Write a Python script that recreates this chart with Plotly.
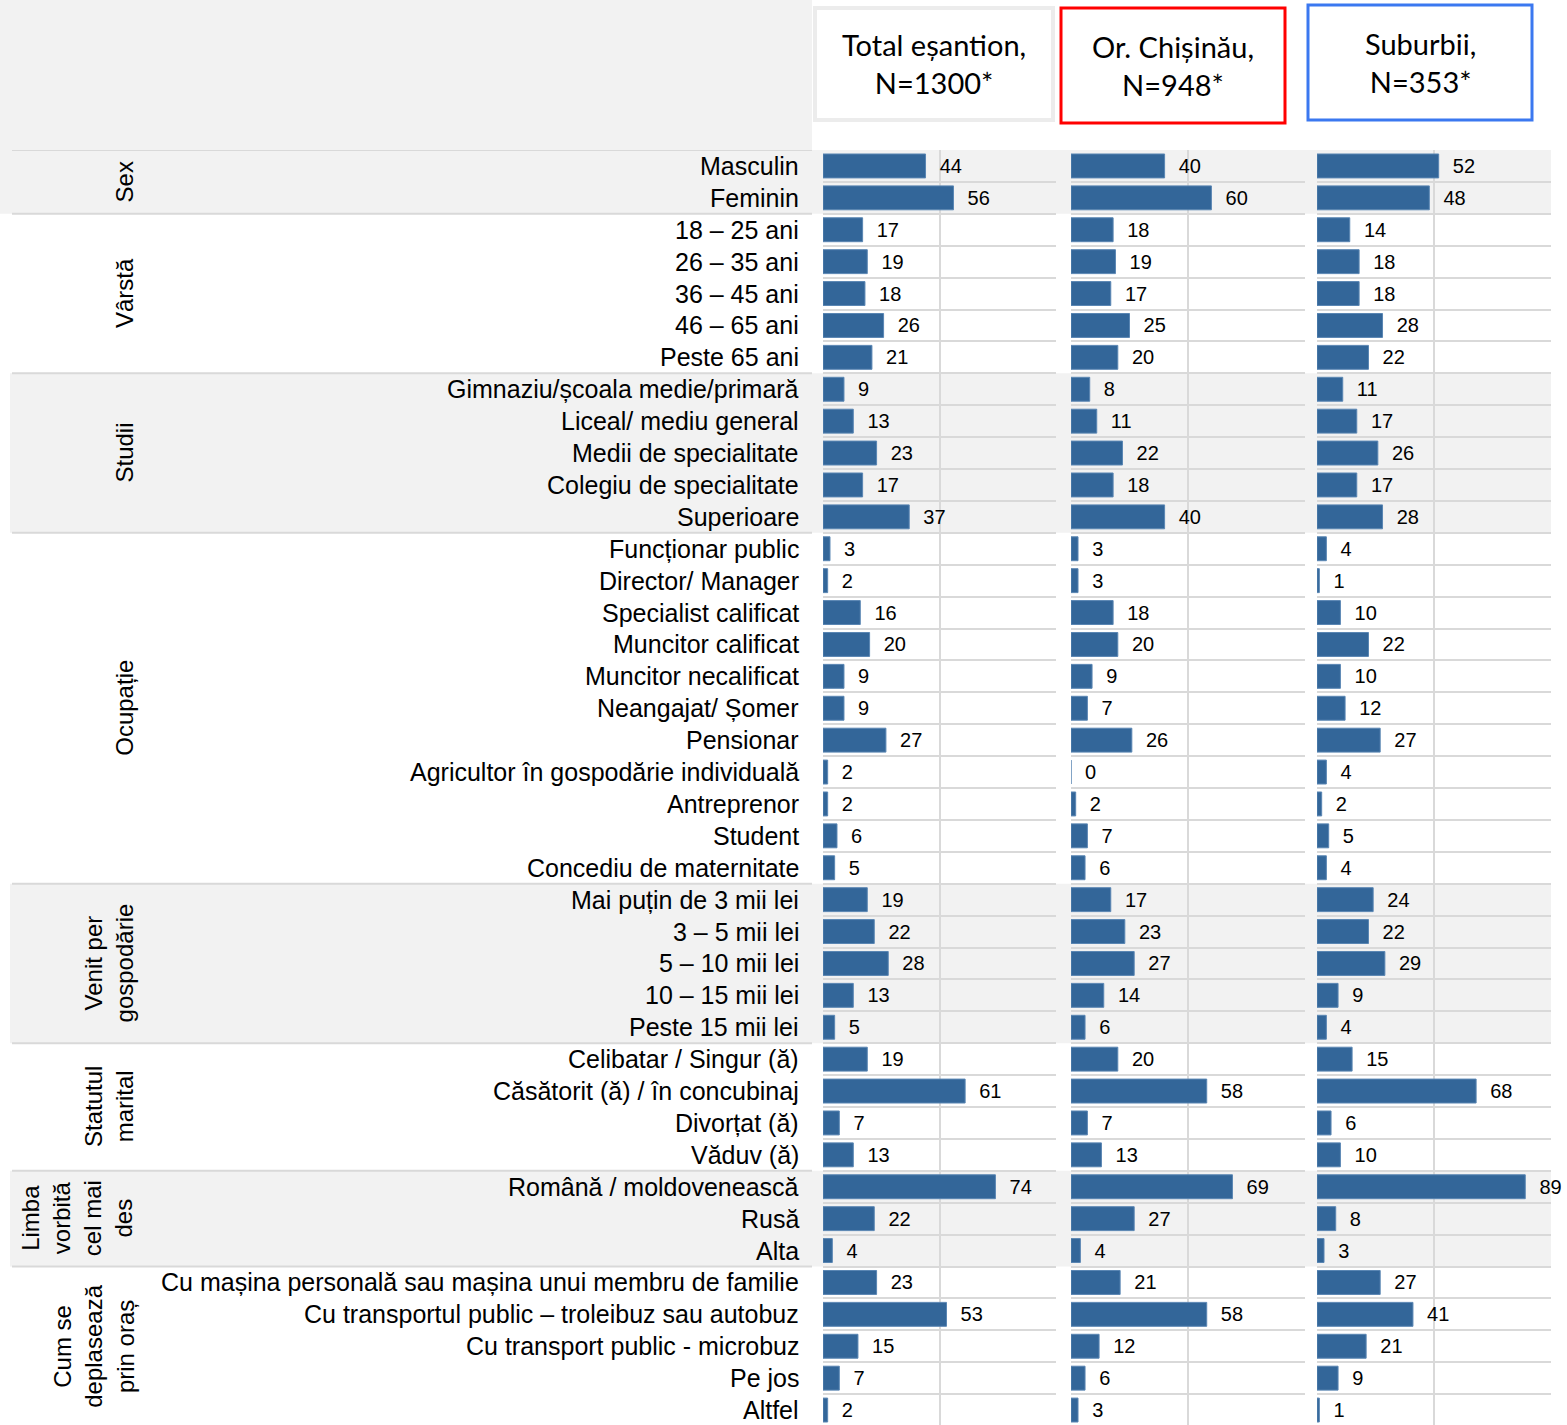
import plotly.graph_objects as go
from plotly.subplots import make_subplots

W, H = 1567, 1425

# ---------------------------
# Data
# ---------------------------
categories = [
    "Masculin", "Feminin",
    "18 – 25 ani", "26 – 35 ani", "36 – 45 ani", "46 – 65 ani", "Peste 65 ani",
    "Gimnaziu/școala medie/primară", "Liceal/ mediu general", "Medii de specialitate",
    "Colegiu de specialitate", "Superioare",
    "Funcționar public", "Director/ Manager", "Specialist calificat", "Muncitor calificat",
    "Muncitor necalificat", "Neangajat/ Șomer", "Pensionar",
    "Agricultor în gospodărie individuală", "Antreprenor", "Student", "Concediu de maternitate",
    "Mai puțin de 3 mii lei", "3 – 5 mii lei", "5 – 10 mii lei", "10 – 15 mii lei", "Peste 15 mii lei",
    "Celibatar / Singur (ă)", "Căsătorit (ă) / în concubinaj", "Divorțat (ă)", "Văduv (ă)",
    "Română / moldovenească", "Rusă", "Alta",
    "Cu mașina personală sau mașina unui membru de familie",
    "Cu transportul public – troleibuz sau autobuz",
    "Cu transport public - microbuz", "Pe jos", "Altfel",
]

total = [44, 56, 17, 19, 18, 26, 21, 9, 13, 23, 17, 37,
         3, 2, 16, 20, 9, 9, 27, 2, 2, 6, 5,
         19, 22, 28, 13, 5, 19, 61, 7, 13, 74, 22, 4,
         23, 53, 15, 7, 2]
chisinau = [40, 60, 18, 19, 17, 25, 20, 8, 11, 22, 18, 40,
            3, 3, 18, 20, 9, 7, 26, 0, 2, 7, 6,
            17, 23, 27, 14, 6, 20, 58, 7, 13, 69, 27, 4,
            21, 58, 12, 6, 3]
suburbii = [52, 48, 14, 18, 18, 28, 22, 11, 17, 26, 17, 28,
            4, 1, 10, 22, 10, 12, 27, 4, 2, 5, 4,
            24, 22, 29, 9, 4, 15, 68, 6, 10, 89, 8, 3,
            27, 41, 21, 9, 1]

group_names = ["Sex", "Vârstă", "Studii", "Ocupație",
               "Venit per<br>gospodărie", "Statutul<br>marital",
               "Limba<br>vorbită<br>cel mai<br>des",
               "Cum se<br>deplasează<br>prin oraș"]
group_sizes = [2, 5, 5, 11, 5, 4, 3, 5]
group_shaded = [True, False, True, False, True, False, True, False]

headers = ["Total eșantion,<br>N=1300*", "Or. Chișinău,<br>N=948*", "Suburbii,<br>N=353*"]
series = [total, chisinau, suburbii]

# ---------------------------
# Layout helpers (pixels -> paper)
# ---------------------------
def px(x):
    return x / W

def py(y):
    return 1 - y / H

n = len(categories)
y_pos = list(range(n))
top_px = 150
row_px = 31.9
y_range = [(H - top_px) / row_px - 0.5, -0.5]

domains = [(823, 1056), (1071, 1305), (1317, 1551)]
bar_color = "#336699"
grid_color = "#d9d9d9"
band_color = "#f2f2f2"
label_font = "Liberation Sans, Arial, sans-serif"

fig = make_subplots(rows=1, cols=3, shared_yaxes=True)

for i, vals in enumerate(series):
    fig.add_trace(go.Bar(
        x=vals, y=y_pos, orientation="h",
        marker=dict(color=bar_color, line=dict(color="#5a86b3", width=1)),
        width=0.75,
        texttemplate="  %{x}", textposition="outside",
        textfont=dict(family=label_font, size=20, color="black"),
        constraintext="none", cliponaxis=False,
        hoverinfo="skip", showlegend=False,
    ), row=1, col=i + 1)

boundaries = [k - 0.5 for k in range(n + 1)]
for i, (a, b) in enumerate(domains):
    xa = "xaxis" if i == 0 else f"xaxis{i + 1}"
    ya = "yaxis" if i == 0 else f"yaxis{i + 1}"
    fig.layout[xa].update(domain=[px(a), px(b)], range=[0, 100],
                          tickvals=[0, 50, 100], showticklabels=False,
                          showgrid=True, gridcolor=grid_color, gridwidth=2,
                          zeroline=False, fixedrange=True)
    fig.layout[ya].update(domain=[0, py(top_px)], range=y_range,
                          tickvals=boundaries, showticklabels=False,
                          showgrid=True, gridcolor=grid_color, gridwidth=2,
                          zeroline=False, fixedrange=True)

shapes = []
annotations = []

# top-left grey block
shapes.append(dict(type="rect", xref="paper", yref="paper",
                   x0=0, x1=px(812), y0=py(top_px), y1=1,
                   fillcolor=band_color, line_width=0, layer="below"))

# group bands, separator lines, group labels
start = 0
for name, size, shaded in zip(group_names, group_sizes, group_shaded):
    y0 = start - 0.5
    y1 = start + size - 0.5
    if shaded:
        shapes.append(dict(type="rect", xref="paper", yref="y",
                           x0=0 if start == 0 else px(10), x1=px(1551),
                           y0=y0, y1=y1,
                           fillcolor=band_color, line_width=0, layer="below"))
    shapes.append(dict(type="line", xref="paper", yref="y",
                       x0=px(12), x1=px(812), y0=y0, y1=y0,
                       line=dict(color=grid_color, width=2), layer="below"))
    annotations.append(dict(xref="paper", yref="y", x=px(140), y=start + (size - 1) / 2,
                            text=name, textangle=-90, showarrow=False,
                            xanchor="right", yanchor="middle",
                            font=dict(family=label_font, size=24, color="black")))
    start += size

# category labels
for yy, cat in zip(y_pos, categories):
    annotations.append(dict(xref="paper", yref="y", x=px(801), y=yy,
                            text=cat, showarrow=False, xanchor="right", yanchor="middle",
                            font=dict(family=label_font, size=25, color="black")))

# header boxes
boxes = [((815, 8, 1053, 120), "#ececec", 4),
         ((1061, 8, 1285, 123), "#ff0000", 3),
         ((1308, 5, 1532, 120), "#3b78f0", 3)]
for (bx0, by0, bx1, by1), col, lw in boxes:
    shapes.append(dict(type="rect", xref="paper", yref="paper",
                       x0=px(bx0), x1=px(bx1), y0=py(by1), y1=py(by0),
                       fillcolor="white", line=dict(color=col, width=lw)))
for (bx0, by0, bx1, by1), txt in zip([b[0] for b in boxes], headers):
    annotations.append(dict(xref="paper", yref="paper",
                            x=px((bx0 + bx1) / 2), y=py((by0 + by1) / 2),
                            text=txt, showarrow=False, xanchor="center", yanchor="middle",
                            font=dict(family="Lato, sans-serif", size=29, color="black")))

fig.update_layout(
    width=W, height=H,
    margin=dict(l=0, r=0, t=0, b=0),
    paper_bgcolor="white", plot_bgcolor="rgba(0,0,0,0)",
    shapes=shapes, annotations=annotations,
    bargap=0.25,
)

fig.write_html("out.html", config={"displayModeBar": False},
               post_script="document.body.style.margin='0';")
